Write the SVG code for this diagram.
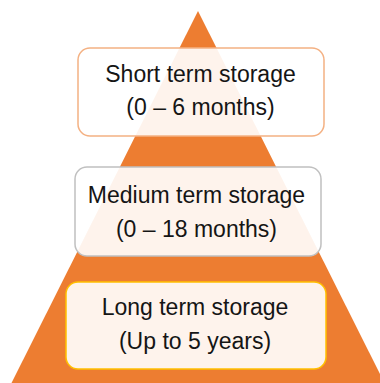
<svg xmlns="http://www.w3.org/2000/svg" width="380" height="383" viewBox="0 0 380 383">
<style>
.box{fill:#ffffff;fill-opacity:0.91;stroke-width:1.5}
.t{font-family:"Liberation Sans",Arial,sans-serif;font-size:23px;fill:#151515;text-anchor:middle}
</style>
<rect x="0" y="0" width="380" height="383" fill="#ffffff"/>
<g id="pyramid">
<polygon points="198,11 11,384 385,384" fill="#ED7D31"/>
</g>
<g id="connectors"></g>
<g id="short">
<rect class="box" x="78" y="48" width="246" height="88" rx="12" stroke="#F4B183"/>
<text class="t" x="200.5" y="82">Short term storage</text>
<text class="t" x="200.5" y="115">(0 – 6 months)</text>
</g>
<g id="medium">
<rect class="box" x="75" y="167" width="246" height="89" rx="12" stroke="#C0C0C0"/>
<text class="t" x="196.5" y="203">Medium term storage</text>
<text class="t" x="196.5" y="237">(0 – 18 months)</text>
</g>
<g id="long">
<rect class="box" x="66" y="282" width="260" height="87" rx="12" stroke="#FFC000"/>
<text class="t" x="195" y="315">Long term storage</text>
<text class="t" x="195" y="349">(Up to 5 years)</text>
</g>
</svg>
